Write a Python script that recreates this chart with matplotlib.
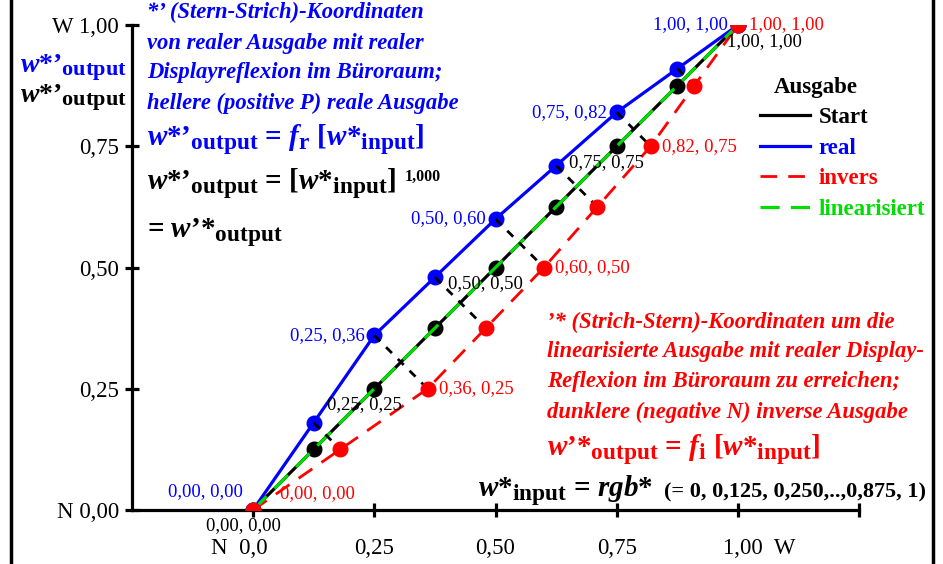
import matplotlib
matplotlib.use('Agg')
import matplotlib.pyplot as plt
from matplotlib.lines import Line2D
import matplotlib._mathtext as _mt

_mt.SHRINK_FACTOR = 0.8

plt.rcParams['font.family'] = ['Liberation Serif', 'DejaVu Serif']
plt.rcParams['mathtext.fontset'] = 'custom'
plt.rcParams['mathtext.rm'] = 'Liberation Serif:bold'
plt.rcParams['mathtext.it'] = 'Liberation Serif:bold:italic'
plt.rcParams['mathtext.bf'] = 'Liberation Serif:bold'

# ---------------- data ----------------
w_input = [0.0, 0.125, 0.25, 0.375, 0.5, 0.625, 0.75, 0.875, 1.0]
w_real = [0.0, 0.18, 0.36, 0.48, 0.60, 0.71, 0.82, 0.91, 1.0]
inv_x = [0.0, 0.18, 0.36, 0.48, 0.60, 0.71, 0.82, 0.91, 1.0]
inv_y = [0.0, 0.125, 0.25, 0.375, 0.5, 0.625, 0.75, 0.875, 1.0]
labeled_idx = [0, 2, 4, 6, 8]
xtick_vals = [0.0, 0.25, 0.5, 0.75, 1.0, 1.25]
xtick_labels = ['N  0,0', '0,25', '0,50', '0,75', '1,00  W', '']
ytick_vals = [0.0, 0.25, 0.5, 0.75, 1.0]
ytick_labels = ['N 0,00', '0,25', '0,50', '0,75', 'W 1,00']
legend_labels = ['Start', 'real', 'invers', 'linearisiert']
GREEN = '#00dd00'

W, H = 943, 564
fig = plt.figure(figsize=(W / 100, H / 100), dpi=100)
ax = fig.add_axes([131.75 / W, 54 / H, 727.5 / W, 485 / H])
ax.set_xlim(-0.25, 1.25)
ax.set_ylim(0, 1)


def P(px, py):
    return (px / W, 1 - py / H)


def fmt(v):
    return f"{v:.2f}".replace('.', ',')

# lines
l_start, = ax.plot(w_input, w_input, color='black', lw=2.3, zorder=2)
l_real, = ax.plot(w_input, w_real, color='blue', lw=2.3, zorder=2)
l_inv, = ax.plot(inv_x, inv_y, color='red', lw=2.0, ls=(0, (6, 4)), zorder=2)
# perpendicular connectors real -> invers
for i in range(1, len(w_input) - 1):
    ax.plot([w_input[i], inv_x[i]], [w_real[i], inv_y[i]], color='black', lw=2.0,
            ls=(0, (3, 3)), zorder=5)
ax.plot(w_input, w_real, 'o', color='blue', ms=10.5, zorder=4)
ax.plot(w_input, w_input, 'o', color='black', ms=10.5, zorder=3)
l_lin, = ax.plot(w_input, w_input, color=GREEN, lw=2.3, ls=(0, (6, 3.5)), zorder=3.5)
ax.plot(inv_x, inv_y, 'o', color='red', ms=10.5, zorder=6)

# point labels
lab_fs = 13.5
for i in labeled_idx:
    ax.annotate(f"{fmt(w_input[i])}, {fmt(w_real[i])}", (w_input[i], w_real[i]),
                xytext=(-10, 18 if i == 0 else 0), textcoords='offset pixels',
                ha='right', va='center', color='blue', fontsize=lab_fs, zorder=7)
    ax.annotate(f"{fmt(inv_x[i])}, {fmt(inv_y[i])}", (inv_x[i], inv_y[i]),
                xytext=(27, 16) if i == 0 else (11, 0), textcoords='offset pixels',
                ha='left', va='center', color='red', fontsize=lab_fs, zorder=7)
    ax.annotate(f"{fmt(w_input[i])}, {fmt(w_input[i])}", (w_input[i], w_input[i]),
                xytext=(26, -17) if i == 8 else (-10, -16), textcoords='offset pixels',
                ha='center', va='center', color='black', fontsize=lab_fs, zorder=7)

# axes styling
for s in ['top', 'right']:
    ax.spines[s].set_visible(False)
for s in ['left', 'bottom']:
    ax.spines[s].set_linewidth(2.3)
ax.set_yticks(ytick_vals)
ax.set_yticklabels(ytick_labels, fontsize=16.5)
ax.set_xticks(xtick_vals)
ax.tick_params(axis='both', direction='inout', length=10, width=2.3, pad=4)
ax.tick_params(axis='x', labelbottom=False)
for v, lab in zip(xtick_vals, xtick_labels):
    if not lab:
        continue
    if lab.startswith('N'):
        ha, dx = 'right', 15
    elif lab.endswith('W'):
        ha, dx = 'left', -15
    else:
        ha, dx = 'center', 0
    ax.annotate(lab, (v, 0), xytext=(dx, -39), textcoords='offset pixels',
                ha=ha, va='center', fontsize=16.5, annotation_clip=False)

# left y labels
fig.text(*P(20, 68), r"$\mathit{w}$*’$_{\mathrm{output}}$", color='blue', fontsize=20,
         fontweight='bold', ha='left', va='center')
fig.text(*P(20, 98), r"$\mathit{w}$*’$_{\mathrm{output}}$", color='black', fontsize=20,
         fontweight='bold', ha='left', va='center')

# blue text block
blue_lines = ["*’ (Stern-Strich)-Koordinaten", "von realer Ausgabe mit realer",
              "Displayreflexion im Büroraum;", "hellere (positive P) reale Ausgabe"]
for k, s in enumerate(blue_lines):
    fig.text(*P(147, [12, 43, 73, 103][k]), s, color='blue', fontsize=16.3,
             fontweight='bold', fontstyle='italic', ha='left', va='center')
fig.text(*P(147, 140), r"$\mathit{w}$*’$_{\mathrm{output}}$ = $\mathit{f}_{\mathrm{r}}$ [$\mathit{w}$*$_{\mathrm{input}}$]",
         color='blue', fontsize=21, fontweight='bold', ha='left', va='center')
fig.text(*P(147, 184), r"$\mathit{w}$*’$_{\mathrm{output}}$ = [$\mathit{w}$*$_{\mathrm{input}}$]",
         color='black', fontsize=21, fontweight='bold', ha='left', va='center')
fig.text(*P(405, 177), "1,000", color='black', fontsize=11.5, fontweight='bold',
         ha='left', va='center')
fig.text(*P(147, 233), r"= $\mathit{w}$’*$_{\mathrm{output}}$", color='black', fontsize=21,
         fontweight='bold', ha='left', va='center')

# red text block
red_lines = ["’* (Strich-Stern)-Koordinaten um die", "linearisierte Ausgabe mit realer Display-",
             "Reflexion im Büroraum zu erreichen;", "dunklere (negative N) inverse Ausgabe"]
for k, s in enumerate(red_lines):
    fig.text(*P(547, [322, 352, 382, 412][k]), s, color='red', fontsize=16.3,
             fontweight='bold', fontstyle='italic', ha='left', va='center')
fig.text(*P(547, 450), r"$\mathit{w}$’*$_{\mathrm{output}}$ = $\mathit{f}_{\mathrm{i}}$ [$\mathit{w}$*$_{\mathrm{input}}$]",
         color='red', fontsize=21, fontweight='bold', ha='left', va='center')

# bottom formula
fig.text(*P(478, 497), r"$\mathit{w}$*$_{\mathrm{input}}$ = $\mathit{rgb}$*",
         color='black', fontsize=21, fontweight='bold', ha='left', va='baseline')
fig.text(*P(664, 497), "(= 0, 0,125, 0,250,..,0,875, 1)", color='black', fontsize=16,
         fontweight='bold', ha='left', va='baseline')

# legend
fig.text(*P(816, 87), "Ausgabe", fontsize=16.5, fontweight='bold', ha='center', va='center')
leg = ax.legend([l_start, l_real, l_inv, l_lin], legend_labels, loc='upper left',
                bbox_to_anchor=P(760, 107), bbox_transform=fig.transFigure,
                frameon=False, prop=dict(family='Liberation Serif', weight='bold', size=16.5),
                handlelength=2.2, handletextpad=0.35, labelspacing=0.42, borderpad=0,
                borderaxespad=0)
for t, h in zip(leg.get_texts(), [l_start, l_real, l_inv, l_lin]):
    t.set_color(h.get_color())

# figure border lines
fig.add_artist(Line2D([11 / W, 11 / W], [0, 1], color='black', lw=2.5, transform=fig.transFigure))
fig.add_artist(Line2D([933 / W, 933 / W], [0, 1], color='black', lw=2.5, transform=fig.transFigure))

fig.savefig('out.png', dpi=100)
